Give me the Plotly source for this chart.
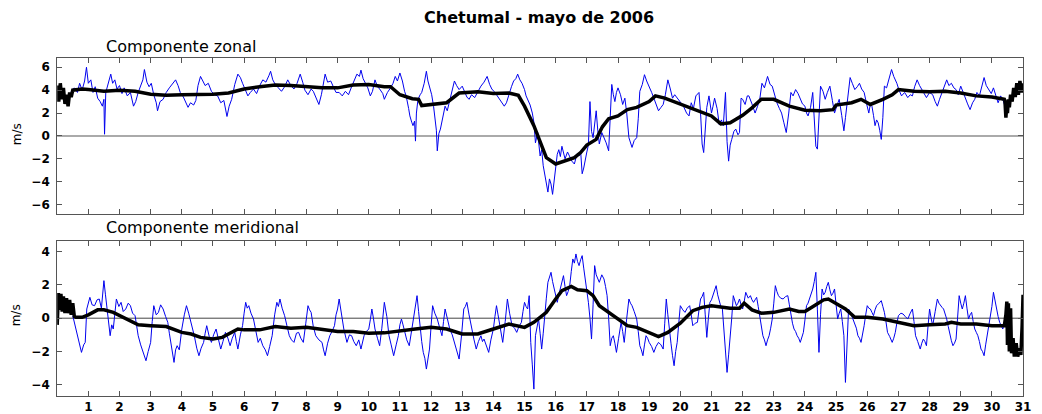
import plotly.graph_objects as go

# ---- Componente zonal (m/s): raw series ----
t_u = [0.45, 0.55, 0.65, 0.72, 0.8, 0.88, 0.94, 1.0, 1.08, 1.15, 1.22, 1.3, 1.38, 1.45, 1.5, 1.52, 1.56, 1.62, 1.68, 1.72,
       1.78, 1.85, 1.92, 2.0, 2.08, 2.15, 2.25, 2.35, 2.45, 2.52, 2.6, 2.68, 2.75, 2.8, 2.88, 2.95, 3.02, 3.1, 3.18, 3.22,
       3.3, 3.4, 3.5, 3.6, 3.7, 3.8, 3.88, 3.95, 4.05, 4.12, 4.2, 4.28, 4.38, 4.45, 4.52, 4.6, 4.68, 4.75, 4.85, 4.95,
       5.05, 5.15, 5.25, 5.35, 5.45, 5.52, 5.6, 5.7, 5.8, 5.88, 5.95, 6.05, 6.12, 6.2, 6.3, 6.4, 6.5, 6.6, 6.7, 6.8,
       6.85, 6.92, 7.0, 7.1, 7.2, 7.3, 7.4, 7.5, 7.6, 7.7, 7.8, 7.88, 7.95, 8.05, 8.15, 8.22, 8.3, 8.4, 8.48, 8.55,
       8.6, 8.68, 8.78, 8.88, 8.95, 9.05, 9.15, 9.25, 9.35, 9.45, 9.55, 9.62, 9.7, 9.75, 9.82, 9.9, 9.97, 10.05, 10.12, 10.2,
       10.28, 10.35, 10.45, 10.5, 10.6, 10.7, 10.78, 10.85, 10.92, 11.0, 11.08, 11.15, 11.2, 11.28, 11.32, 11.38, 11.42, 11.47, 11.5, 11.53,
       11.58, 11.65, 11.7, 11.78, 11.85, 11.9, 11.96, 12.02, 12.08, 12.12, 12.17, 12.2, 12.25, 12.3, 12.38, 12.45, 12.52, 12.6, 12.68, 12.75,
       12.82, 12.9, 13.0, 13.08, 13.15, 13.22, 13.3, 13.4, 13.5, 13.6, 13.7, 13.8, 13.88, 13.95, 14.05, 14.12, 14.2, 14.28, 14.35, 14.42,
       14.5, 14.58, 14.65, 14.72, 14.78, 14.85, 14.92, 15.0, 15.05, 15.1, 15.18, 15.25, 15.3, 15.35, 15.42, 15.5, 15.55, 15.6, 15.65, 15.72,
       15.75, 15.8, 15.85, 15.9, 15.95, 16.0, 16.05, 16.1, 16.15, 16.2, 16.25, 16.3, 16.38, 16.45, 16.52, 16.6, 16.68, 16.75, 16.8, 16.85,
       16.9, 17.0, 17.05, 17.1, 17.15, 17.2, 17.25, 17.3, 17.35, 17.4, 17.48, 17.55, 17.62, 17.7, 17.75, 17.8, 17.85, 17.9, 17.95, 18.0,
       18.08, 18.15, 18.22, 18.28, 18.35, 18.4, 18.45, 18.52, 18.6, 18.65, 18.7, 18.78, 18.85, 18.92, 19.0, 19.08, 19.15, 19.22, 19.3, 19.38,
       19.45, 19.52, 19.6, 19.68, 19.75, 19.82, 19.9, 20.0, 20.1, 20.2, 20.28, 20.35, 20.42, 20.5, 20.6, 20.65, 20.7, 20.75, 20.8, 20.85,
       20.92, 21.0, 21.05, 21.1, 21.18, 21.25, 21.32, 21.38, 21.45, 21.5, 21.55, 21.6, 21.65, 21.72, 21.78, 21.85, 21.9, 21.95, 22.0, 22.08,
       22.15, 22.2, 22.3, 22.4, 22.48, 22.55, 22.62, 22.7, 22.8, 22.88, 22.95, 23.02, 23.1, 23.18, 23.25, 23.32, 23.4, 23.48, 23.55, 23.62,
       23.7, 23.78, 23.85, 23.92, 24.0, 24.05, 24.1, 24.18, 24.25, 24.3, 24.35, 24.4, 24.45, 24.5, 24.58, 24.65, 24.72, 24.8, 24.88, 24.95,
       25.02, 25.1, 25.18, 25.25, 25.3, 25.35, 25.42, 25.45, 25.52, 25.6, 25.68, 25.75, 25.82, 25.9, 25.98, 26.05, 26.1, 26.15, 26.2, 26.25,
       26.3, 26.35, 26.4, 26.45, 26.5, 26.55, 26.62, 26.7, 26.78, 26.85, 26.95, 27.02, 27.1, 27.2, 27.3, 27.38, 27.45, 27.52, 27.6, 27.68,
       27.75, 27.82, 27.9, 28.0, 28.1, 28.18, 28.25, 28.32, 28.4, 28.48, 28.55, 28.62, 28.7, 28.78, 28.85, 28.92, 29.0, 29.08, 29.15, 29.22,
       29.3, 29.38, 29.45, 29.52, 29.6, 29.68, 29.75, 29.82, 29.9, 29.98, 30.05, 30.12, 30.2, 30.28, 30.35, 30.42, 30.48]
u_raw = [3.9, 4.2, 3.8, 4.6, 4.0, 4.8, 6.0, 4.6, 4.9, 3.8, 4.3, 3.3, 3.0, 2.6, 3.2, 0.15, 3.8, 4.4, 5.0, 5.4,
         4.6, 4.9, 4.1, 4.4, 3.7, 4.2, 3.5, 3.8, 2.6, 3.0, 3.8, 4.5, 4.9, 5.8, 4.7, 4.3, 4.6, 3.6, 2.9, 2.2,
         3.0, 3.2, 3.8, 4.2, 4.6, 4.9, 4.4, 3.8, 3.4, 3.0, 2.5, 2.9, 2.7, 3.1, 4.4, 5.2, 4.8, 4.4, 4.6, 3.9,
         3.6, 3.5, 2.9, 3.1, 1.7, 2.6, 3.2, 4.5, 5.4, 5.1, 4.6, 4.0, 3.5, 3.8, 4.1, 3.7, 4.4, 4.9, 4.7, 5.3,
         5.65, 4.9, 4.5, 4.2, 3.9, 4.3, 4.9, 4.4, 4.1, 4.6, 5.4, 4.7, 4.0, 3.6, 4.1, 3.9, 3.4, 2.75, 3.6, 4.6,
         5.4, 4.7, 4.8, 4.2, 3.8, 3.8, 3.5, 3.9, 3.6, 4.3, 5.0, 5.4, 5.2, 5.75, 5.0, 4.6, 4.2, 3.5, 3.9, 4.9,
         4.3, 4.1, 3.7, 3.2, 3.8, 4.2, 4.6, 5.2, 4.8, 5.5, 4.8, 3.9, 3.5, 2.4, 1.75, 1.2, 0.9, 1.3, -0.45, 2.0,
         3.2, 3.6, 3.8, 4.6, 5.65, 4.8, 4.1, 3.6, 2.6, 1.75, 0.5, -1.3, 0.2, 0.6, 1.6, 2.6, 2.2, 3.2, 3.9, 4.8,
         4.4, 4.05, 4.35, 3.9, 3.4, 3.2, 3.6, 3.35, 3.9, 4.35, 4.7, 5.2, 4.5, 4.1, 3.8, 3.5, 3.2, 2.9, 2.6, 2.9,
         3.7, 4.3, 4.8, 5.0, 5.4, 4.9, 4.6, 4.05, 3.5, 3.2, 2.7, 2.0, 1.2, -0.6, 0.3, -1.75, -1.2, -2.6, -3.4, -4.6,
         -4.9, -3.75, -4.2, -5.1, -4.0, -2.6, -1.6, -1.2, -1.8, -0.9, -1.5, -2.0, -1.4, -1.75, -2.2, -2.45, -1.6, -1.75, -1.3, -3.3,
         -2.8, -1.4, -0.8, 3.0, 0.4, -0.15, 1.0, 2.2, 0.5, -0.7, 0.3, -0.15, -0.6, -1.3, 2.0, 4.5, 3.6, 3.0, 3.8, 4.2,
         3.6, 2.75, 3.3, 2.0, -0.15, -0.5, -1.0, -0.4, -0.15, 1.5, 3.9, 4.5, 5.35, 4.8, 4.35, 3.8, 3.3, 2.8, 2.2, 2.5,
         2.75, 3.6, 4.9, 4.1, 3.3, 3.6, 3.3, 3.0, 2.6, 2.0, 1.75, 2.9, 2.4, 3.5, 3.8, 2.0, -0.7, -1.45, 0.8, 2.5,
         3.5, 2.0, 2.6, 3.3, 2.4, 1.0, 1.4, 0.9, 3.8, -0.5, -2.2, -0.8, -0.3, 0.4, 0.6, 0.1, 0.3, 3.3, 3.2, 2.75,
         3.5, 3.5, 2.8, 2.0, 2.6, 3.2, 4.6, 4.2, 5.2, 4.5, 4.35, 3.6, 2.9, 2.4, 2.0, 1.2, 0.3, 2.0, 3.8, 3.5,
         4.05, 3.7, 3.2, 2.8, 2.6, 2.0, 1.75, 2.5, 3.8, 1.5, -0.9, -1.15, 2.0, 4.35, 3.9, 3.2, 3.8, 4.35, 3.1, 2.0,
         2.6, 3.2, 1.8, 0.45, 1.6, 2.9, 4.3, 5.1, 4.6, 4.05, 4.3, 4.6, 4.1, 3.8, 2.8, 2.0, 2.8, 2.6, 1.8, 0.9,
         1.4, 1.15, 0.5, -0.3, 1.6, 4.35, 4.2, 4.9, 5.8, 5.2, 4.6, 4.0, 3.5, 3.8, 3.35, 3.6, 3.5, 4.3, 4.9, 4.4,
         4.05, 3.7, 3.35, 3.8, 3.6, 3.0, 2.6, 3.2, 3.8, 4.3, 4.9, 4.4, 4.6, 4.2, 4.05, 3.6, 4.35, 3.8, 3.2, 2.8,
         2.3, 2.9, 3.2, 3.8, 3.5, 4.4, 5.1, 4.4, 4.05, 3.7, 4.2, 3.6, 2.9, 3.5, 3.2, 2.6, 2.3]

# ---- Componente zonal: filtered series ----
t_uf = [0.0, 0.05, 0.1, 0.15, 0.2, 0.25, 0.3, 0.35, 0.4, 0.45, 0.5, 0.6, 0.8, 1.0, 1.5, 2.0, 2.5, 3.0, 3.5, 4.0,
        4.5, 5.0, 5.5, 6.0, 6.5, 7.0, 7.5, 8.0, 8.5, 9.0, 9.5, 10.0, 10.5, 10.7, 11.0, 11.4, 11.6, 11.7, 11.85, 12.0,
        12.5, 12.9, 13.5, 14.0, 14.5, 14.8, 15.0, 15.3, 15.5, 15.7, 16.0, 16.3, 16.6, 16.8, 17.0, 17.3, 17.5, 17.7, 18.0, 18.3,
        18.6, 19.0, 19.2, 19.5, 20.0, 20.5, 21.0, 21.3, 21.6, 22.0, 22.3, 22.6, 23.0, 23.5, 24.0, 24.5, 24.9, 25.0, 25.5, 25.8,
        26.1, 26.5, 26.8, 27.0, 27.5, 28.0, 28.5, 29.0, 29.5, 30.0, 30.4, 30.42, 30.45, 30.48, 30.5, 30.53, 30.56, 30.6, 30.65, 30.7,
        30.75, 30.8, 30.85, 30.9, 30.95, 31.0]
u_filt = [4.4, 3.0, 4.6, 3.2, 4.2, 2.8, 3.6, 2.6, 3.8, 3.4, 4.0, 4.05, 4.1, 4.05, 3.9, 4.0, 3.9, 3.65, 3.55, 3.6,
          3.6, 3.65, 3.75, 4.1, 4.3, 4.45, 4.4, 4.3, 4.2, 4.2, 4.45, 4.5, 4.3, 4.3, 3.6, 3.25, 3.2, 2.65, 2.7, 2.75,
          2.9, 3.75, 3.85, 3.7, 3.75, 3.55, 2.6, 0.9, -0.6, -1.9, -2.45, -2.2, -1.9, -1.45, -0.8, -0.3, 0.8, 1.5, 1.75, 2.3,
          2.5, 3.0, 3.5, 3.3, 2.8, 2.25, 1.75, 1.05, 1.15, 1.8, 2.45, 3.2, 3.2, 2.6, 2.25, 2.2, 2.3, 2.7, 2.9, 3.2,
          2.75, 3.2, 3.6, 4.05, 3.9, 3.85, 3.9, 3.75, 3.5, 3.4, 3.2, 3.0, 1.6, 2.8, 2.0, 3.2, 2.5, 3.6, 3.0, 4.2,
          3.4, 4.6, 3.6, 4.8, 3.8, 4.6]

# ---- Componente meridional (m/s): raw series ----
t_v = [0.5, 0.6, 0.7, 0.78, 0.85, 0.9, 0.95, 1.05, 1.12, 1.2, 1.28, 1.35, 1.42, 1.5, 1.55, 1.6, 1.65, 1.7, 1.75, 1.8,
       1.9, 1.98, 2.05, 2.12, 2.2, 2.28, 2.35, 2.42, 2.5, 2.55, 2.6, 2.68, 2.75, 2.8, 2.85, 2.92, 3.0, 3.05, 3.1, 3.18,
       3.25, 3.32, 3.4, 3.48, 3.55, 3.6, 3.65, 3.7, 3.75, 3.8, 3.85, 3.92, 4.0, 4.08, 4.15, 4.22, 4.3, 4.35, 4.4, 4.48,
       4.55, 4.62, 4.7, 4.75, 4.8, 4.88, 4.95, 5.02, 5.1, 5.18, 5.25, 5.32, 5.4, 5.48, 5.55, 5.62, 5.7, 5.75, 5.8, 5.88,
       5.95, 6.0, 6.05, 6.1, 6.15, 6.22, 6.3, 6.38, 6.45, 6.52, 6.6, 6.68, 6.75, 6.82, 6.9, 6.98, 7.05, 7.1, 7.15, 7.22,
       7.3, 7.38, 7.45, 7.52, 7.6, 7.68, 7.75, 7.82, 7.9, 7.98, 8.05, 8.1, 8.15, 8.22, 8.3, 8.4, 8.5, 8.55, 8.6, 8.68,
       8.75, 8.82, 8.9, 8.95, 9.0, 9.05, 9.1, 9.15, 9.2, 9.3, 9.38, 9.45, 9.52, 9.6, 9.68, 9.75, 9.8, 9.85, 9.92, 10.0,
       10.05, 10.1, 10.15, 10.2, 10.28, 10.35, 10.42, 10.5, 10.58, 10.65, 10.72, 10.8, 10.88, 10.95, 11.0, 11.05, 11.1, 11.15, 11.22, 11.3,
       11.38, 11.45, 11.5, 11.55, 11.6, 11.65, 11.7, 11.75, 11.8, 11.85, 11.9, 11.95, 12.0, 12.05, 12.12, 12.2, 12.28, 12.35, 12.4, 12.45,
       12.52, 12.6, 12.68, 12.75, 12.82, 12.9, 12.98, 13.05, 13.1, 13.15, 13.22, 13.3, 13.38, 13.45, 13.52, 13.6, 13.65, 13.7, 13.78, 13.85,
       13.92, 14.0, 14.05, 14.1, 14.15, 14.2, 14.25, 14.3, 14.38, 14.45, 14.52, 14.6, 14.68, 14.75, 14.82, 14.9, 14.95, 15.0, 15.05, 15.1,
       15.15, 15.2, 15.25, 15.3, 15.35, 15.4, 15.45, 15.5, 15.55, 15.6, 15.65, 15.7, 15.75, 15.8, 15.85, 15.9, 15.95, 16.0, 16.05, 16.1,
       16.15, 16.2, 16.25, 16.3, 16.35, 16.4, 16.45, 16.5, 16.55, 16.6, 16.65, 16.7, 16.75, 16.8, 16.85, 16.9, 16.95, 17.0, 17.05, 17.1,
       17.15, 17.2, 17.25, 17.3, 17.4, 17.48, 17.55, 17.6, 17.65, 17.7, 17.75, 17.8, 17.85, 17.9, 17.95, 18.02, 18.1, 18.15, 18.2, 18.28,
       18.35, 18.4, 18.45, 18.52, 18.6, 18.65, 18.7, 18.75, 18.8, 18.85, 18.9, 18.95, 19.0, 19.08, 19.15, 19.22, 19.3, 19.38, 19.45, 19.5,
       19.55, 19.6, 19.65, 19.7, 19.75, 19.8, 19.85, 19.9, 19.95, 20.0, 20.08, 20.15, 20.22, 20.3, 20.35, 20.4, 20.48, 20.55, 20.6, 20.65,
       20.7, 20.75, 20.8, 20.85, 20.9, 20.95, 21.0, 21.05, 21.1, 21.15, 21.2, 21.25, 21.3, 21.35, 21.4, 21.45, 21.5, 21.55, 21.6, 21.65,
       21.7, 21.75, 21.8, 21.85, 21.9, 21.95, 22.0, 22.05, 22.1, 22.18, 22.25, 22.3, 22.35, 22.4, 22.45, 22.5, 22.55, 22.6, 22.65, 22.7,
       22.75, 22.8, 22.85, 22.9, 22.95, 23.0, 23.05, 23.1, 23.15, 23.22, 23.3, 23.38, 23.45, 23.5, 23.55, 23.6, 23.65, 23.7, 23.75, 23.8,
       23.85, 23.9, 23.95, 24.0, 24.05, 24.1, 24.15, 24.2, 24.25, 24.3, 24.35, 24.4, 24.45, 24.5, 24.55, 24.6, 24.65, 24.7, 24.75, 24.8,
       24.85, 24.9, 24.95, 25.0, 25.05, 25.1, 25.15, 25.2, 25.25, 25.3, 25.35, 25.4, 25.45, 25.5, 25.55, 25.6, 25.65, 25.7, 25.75, 25.8,
       25.85, 25.9, 25.95, 26.0, 26.05, 26.1, 26.15, 26.2, 26.25, 26.3, 26.38, 26.45, 26.5, 26.55, 26.6, 26.65, 26.72, 26.8, 26.85, 26.9,
       26.95, 27.0, 27.08, 27.15, 27.22, 27.3, 27.38, 27.45, 27.5, 27.55, 27.62, 27.7, 27.75, 27.8, 27.85, 27.9, 27.95, 28.0, 28.05, 28.1,
       28.18, 28.25, 28.3, 28.35, 28.4, 28.45, 28.5, 28.55, 28.6, 28.65, 28.7, 28.75, 28.8, 28.85, 28.9, 28.95, 29.0, 29.05, 29.1, 29.15,
       29.2, 29.25, 29.3, 29.35, 29.4, 29.45, 29.5, 29.55, 29.6, 29.65, 29.7, 29.75, 29.8, 29.85, 29.9, 29.95, 30.0, 30.05, 30.1, 30.15,
       30.2, 30.25, 30.3, 30.35, 30.4, 30.45]
v_raw = [0.15, -0.65, -1.45, -2.05, -1.6, -1.45, 0.55, 1.25, 0.8, 0.75, 1.1, 1.15, 0.6, 2.25, 1.4, 0.55, -0.6, -1.05, -0.4, -0.65,
         1.15, 0.7, 0.95, 0.4, 0.55, 0.9, 0.75, 0.3, 0.15, -0.5, -1.05, -1.6, -2.05, -2.3, -2.55, -2.0, -1.45, -0.2, 0.75, 0.2,
         0.35, 0.8, 0.55, 0.1, -0.25, -0.9, -1.45, -2.2, -2.65, -1.9, -1.65, -1.9, -0.65, 0.2, 0.75, 0.3, -0.25, -0.6, -1.05, -1.8,
         -2.25, -1.8, -1.45, -0.9, -0.45, -1.1, -1.45, -1.0, -0.65, -1.3, -1.85, -1.4, -0.85, -1.2, -1.65, -1.2, -0.85, -1.4, -1.85, -1.0,
         -0.45, 0.3, 0.95, 0.6, 0.75, 0.3, -0.05, -0.8, -1.45, -1.2, -1.65, -1.9, -2.25, -1.7, -1.05, 0.2, 0.95, 0.7, 1.15, 0.6,
         0.15, -0.5, -1.05, -1.3, -1.45, -0.9, -0.85, -1.2, -1.45, -0.3, 0.75, 0.5, 0.35, -0.5, -1.05, -1.3, -1.45, -1.9, -2.25, -1.5,
         -1.05, -0.8, -0.45, 0.2, 0.55, 1.15, 0.6, -0.2, -0.65, -1.45, -1.0, -1.05, -1.4, -1.65, -1.3, -1.85, -1.4, -1.05, -0.8, -0.65,
         -0.1, 0.55, 0.0, -0.65, -1.2, -1.65, -0.6, 0.95, 0.1, -1.05, -1.6, -2.25, -1.6, -1.05, -0.4, -0.05, -0.4, -0.85, -1.3, -1.65,
         -0.7, 0.15, 0.8, 1.35, 0.4, -0.65, -1.4, -2.05, -2.4, -3.05, -2.3, -1.85, -0.5, 0.75, 0.3, -0.05, -0.6, -1.05, -0.2, 0.55,
         0.0, -0.65, -1.0, -1.45, -2.0, -2.45, -1.0, 0.55, 0.7, 0.95, 0.2, -0.65, -1.3, -1.85, -1.4, -1.05, -1.4, -1.25, -1.7, -2.05,
         -1.3, -0.65, 0.1, 0.75, 0.2, -0.45, -0.9, -1.45, -0.2, 1.15, 0.3, -0.45, -0.6, -0.85, -0.5, -0.25, 0.4, 0.95, 0.7, 0.55,
         1.35, -1.45, -2.8, -4.25, -1.05, -0.4, -0.05, -0.9, -1.85, -0.9, -0.05, 1.2, 2.15, 2.4, 2.75, 2.2, 1.75, 1.3, 0.95, 1.4,
         1.75, 2.2, 2.55, 1.9, 1.35, 1.6, 1.95, 2.8, 3.55, 3.3, 3.85, 3.4, 3.15, 3.5, 3.75, 3.0, 2.35, 1.6, 0.95, 0.0,
         -1.25, 0.8, 3.15, 2.6, 2.15, 2.6, 2.35, 1.9, 1.35, 0.0, -1.65, -1.2, -1.05, -1.5, -2.05, -1.2, -0.25, -0.8, -1.45, 0.0,
         1.15, 0.9, 0.75, 0.4, -0.05, -0.8, -1.65, -1.9, -2.25, -1.6, -1.05, -1.2, -1.45, -1.7, -2.05, -1.7, -1.45, -1.6, -1.85, -0.3,
         1.15, 0.2, -0.85, -1.5, -2.25, -2.85, -2.0, -1.45, -0.3, 0.75, 0.5, 0.35, 0.6, 0.75, 0.2, -0.45, -0.3, -0.25, 0.5, 1.15,
         1.3, 1.55, 0.2, -1.15, 0.0, 0.95, 1.1, 1.35, 1.6, 1.95, 1.4, 0.95, 0.7, 0.55, -0.6, -2.05, -3.25, -2.2, -1.25, 0.0,
         1.35, 1.0, 0.75, 0.9, 1.15, 0.8, 0.55, 1.0, 1.55, 1.2, 1.35, 1.1, 0.95, 1.1, 1.25, 0.7, 0.15, -0.5, -1.05, -1.3,
         -1.65, -1.3, -1.05, -0.6, -0.05, 0.9, 1.95, 1.6, 1.35, 1.2, 1.15, 1.3, 1.35, 0.8, 0.15, -0.3, -0.65, -0.8, -1.05, -1.2,
         -1.45, -1.1, -0.85, -0.1, 0.75, 0.9, 1.15, 1.4, 1.75, 2.2, 2.75, 0.5, -2.05, 0.2, 1.75, 1.4, 1.55, 1.9, 2.15, 1.7,
         1.35, 1.5, 1.75, 0.8, -0.05, 0.3, 0.55, -0.2, -1.05, -3.85, -1.0, 0.55, 0.4, 0.15, -0.1, -0.25, -0.6, -1.05, -1.2, -1.45,
         -1.0, -0.45, 0.2, 0.75, 0.6, 0.55, 0.35, 0.15, 0.5, 0.75, 0.9, 1.05, 0.7, 0.35, -0.2, -0.85, -1.1, -1.45, -1.2, -0.85,
         -0.3, 0.15, 0.3, 0.25, 0.1, -0.05, 0.3, 0.55, -0.2, -1.05, -1.4, -1.85, -1.5, -1.25, -1.4, -1.65, -0.5, 0.55, 0.0, -0.45,
         0.4, 1.15, 0.9, 0.75, 0.65, 0.55, 0.25, -0.05, -0.5, -1.05, -1.35, -1.65, -1.5, -1.25, 0.0, 1.35, 0.9, 0.55, 0.9, 1.35,
         0.6, -0.05, 0.2, 0.35, -0.2, -0.65, -0.85, -1.05, -1.4, -1.85, -2.0, -2.25, -1.6, -1.05, -0.5, -0.05, 0.7, 1.55, 1.0, 0.55,
         0.1, -0.25, -0.45, -0.65, -0.3, -0.05]

# ---- Componente meridional: filtered series ----
t_vf = [0.0, 0.04, 0.08, 0.12, 0.16, 0.2, 0.25, 0.3, 0.35, 0.4, 0.45, 0.5, 0.55, 0.6, 0.8, 1.0, 1.3, 1.5, 1.8, 2.0,
        2.3, 2.6, 3.0, 3.5, 4.0, 4.3, 4.6, 5.0, 5.3, 5.6, 5.8, 6.0, 6.5, 7.0, 7.5, 8.0, 8.5, 9.0, 9.5, 10.0,
        10.5, 11.0, 11.5, 12.0, 12.5, 13.0, 13.5, 14.0, 14.5, 15.0, 15.3, 15.5, 15.7, 16.0, 16.2, 16.5, 16.7, 17.0, 17.2, 17.4,
        17.7, 18.0, 18.3, 18.6, 19.0, 19.3, 19.6, 20.0, 20.4, 20.7, 21.0, 21.3, 21.6, 21.9, 22.05, 22.3, 22.6, 23.0, 23.5, 23.8,
        24.0, 24.3, 24.6, 24.75, 25.0, 25.3, 25.6, 26.0, 26.5, 27.0, 27.5, 28.0, 28.5, 28.7, 29.0, 29.5, 30.0, 30.4, 30.45, 30.48,
        30.5, 30.53, 30.56, 30.6, 30.63, 30.68, 30.72, 30.78, 30.83, 30.88, 30.93, 30.97, 31.0]
v_filt = [-0.4, 1.5, 0.5, 1.45, 0.4, 1.3, 0.3, 1.2, 0.3, 1.1, 0.2, 0.9, 0.1, 0.05, 0.05, 0.2, 0.5, 0.5, 0.35, 0.15,
          -0.15, -0.4, -0.45, -0.5, -0.85, -0.95, -1.15, -1.25, -1.15, -0.85, -0.65, -0.7, -0.7, -0.5, -0.6, -0.55, -0.7, -0.8, -0.8, -0.9,
          -0.88, -0.75, -0.65, -0.55, -0.65, -0.95, -0.95, -0.65, -0.35, -0.55, -0.25, 0.05, 0.35, 1.15, 1.65, 1.9, 1.7, 1.65, 1.35, 0.75,
          0.35, -0.05, -0.45, -0.55, -0.85, -1.1, -0.85, -0.3, 0.45, 0.65, 0.75, 0.65, 0.6, 0.6, 0.9, 0.5, 0.3, 0.35, 0.55, 0.4,
          0.4, 0.75, 1.1, 1.15, 0.85, 0.55, 0.05, 0.05, -0.05, -0.25, -0.45, -0.4, -0.35, -0.25, -0.35, -0.35, -0.45, -0.45, 0.2, 1.0,
          -1.6, 0.9, -2.0, 0.6, -2.1, -1.2, -2.3, -1.5, -2.3, -1.8, -2.2, -0.5, 1.4]

day_ticks = list(range(1, 32))
u_ticks = [-6, -4, -2, 0, 2, 4, 6]
v_ticks = [-4, -2, 0, 2, 4]

BLUE = "#0000ee"
FRAME = "#555555"
TICKFONT = dict(family="DejaVu Sans", size=12, color="black", weight="bold")

fig = go.Figure()
fig.add_trace(go.Scatter(x=t_u, y=u_raw, mode="lines", line=dict(color=BLUE, width=1),
                         xaxis="x", yaxis="y", showlegend=False))
fig.add_trace(go.Scatter(x=t_uf, y=u_filt, mode="lines", line=dict(color="black", width=3.5),
                         xaxis="x", yaxis="y", showlegend=False))
fig.add_trace(go.Scatter(x=t_v, y=v_raw, mode="lines", line=dict(color=BLUE, width=1),
                         xaxis="x2", yaxis="y2", showlegend=False))
fig.add_trace(go.Scatter(x=t_vf, y=v_filt, mode="lines", line=dict(color="black", width=3.5),
                         xaxis="x2", yaxis="y2", showlegend=False))

common_x = dict(range=[0, 31], showgrid=False, zeroline=False, showline=True, linecolor=FRAME,
                linewidth=1, mirror="ticks", ticks="inside", ticklen=5, tickcolor=FRAME,
                tickvals=day_ticks, tickfont=TICKFONT)
common_y = dict(showgrid=False, zeroline=False, showline=True, linecolor=FRAME, linewidth=1,
                mirror="ticks", ticks="inside", ticklen=5, tickcolor=FRAME, tickfont=TICKFONT,
                ticklabelstandoff=4)

fig.update_layout(
    width=1042, height=414,
    margin=dict(l=0, r=0, t=0, b=0),
    paper_bgcolor="white", plot_bgcolor="white",
    xaxis=dict(common_x, domain=[0.0553, 0.9894], anchor="y", showticklabels=False),
    yaxis=dict(common_y, domain=[0.481, 0.859], anchor="x", range=[-6.8, 6.8], tickvals=u_ticks),
    xaxis2=dict(common_x, domain=[0.0553, 0.9894], anchor="y2", ticktext=[str(d) for d in day_ticks]),
    yaxis2=dict(common_y, domain=[0.0394, 0.416], anchor="x2", range=[-4.65, 4.65], tickvals=v_ticks),
    shapes=[
        dict(type="line", xref="x domain", yref="y", x0=0, x1=1, y0=0, y1=0,
             line=dict(color="#aaaaaa", width=2), layer="below"),
        dict(type="line", xref="x2 domain", yref="y2", x0=0, x1=1, y0=0, y1=0,
             line=dict(color="#444444", width=1), layer="below"),
    ],
    annotations=[
        dict(text="<b>Chetumal - mayo de 2006</b>", x=543 / 1042, y=1 - 18 / 414, xref="paper", yref="paper",
             showarrow=False, xanchor="center", yanchor="middle",
             font=dict(family="DejaVu Sans", size=16, color="black")),
        dict(text="Componente zonal", x=105 / 1042, y=1 - 47 / 414, xref="paper", yref="paper",
             showarrow=False, xanchor="left", yanchor="middle",
             font=dict(family="DejaVu Sans", size=16, color="black")),
        dict(text="Componente meridional", x=105 / 1042, y=1 - 229 / 414, xref="paper", yref="paper",
             showarrow=False, xanchor="left", yanchor="middle",
             font=dict(family="DejaVu Sans", size=16, color="black")),
        dict(text="m/s", x=17 / 1042, y=1 - 135 / 414, xref="paper", yref="paper", textangle=-90,
             showarrow=False, xanchor="center", yanchor="middle",
             font=dict(family="DejaVu Sans", size=12, color="black")),
        dict(text="m/s", x=17 / 1042, y=1 - 317 / 414, xref="paper", yref="paper", textangle=-90,
             showarrow=False, xanchor="center", yanchor="middle",
             font=dict(family="DejaVu Sans", size=12, color="black")),
    ],
)

fig.write_html("out.html")
